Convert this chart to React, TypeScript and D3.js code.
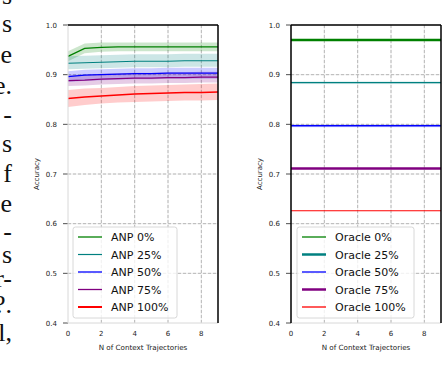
import React, { useEffect, useRef } from 'react';
import * as d3 from 'd3';

// context sizes on the x axis
const contextN = [0, 1, 2, 3, 4, 5, 6, 7, 8, 9];

const anpLabels = ['ANP 0%', 'ANP 25%', 'ANP 50%', 'ANP 75%', 'ANP 100%'];
const anpColors = ['green', 'teal', 'blue', 'purple', 'red'];
const anpWidths = [1.3, 1.2, 1.3, 1.3, 2];

const anpMean = [
  [0.937, 0.953, 0.955, 0.956, 0.956, 0.956, 0.956, 0.956, 0.956, 0.956],
  [0.923, 0.924, 0.925, 0.926, 0.927, 0.927, 0.927, 0.928, 0.928, 0.928],
  [0.896, 0.899, 0.900, 0.901, 0.902, 0.902, 0.903, 0.903, 0.903, 0.903],
  [0.888, 0.889, 0.891, 0.892, 0.893, 0.893, 0.894, 0.894, 0.895, 0.895],
  [0.852, 0.855, 0.857, 0.859, 0.861, 0.862, 0.863, 0.864, 0.864, 0.865],
];
const anpLow = [
  [0.927, 0.943, 0.946, 0.947, 0.947, 0.947, 0.947, 0.947, 0.947, 0.947],
  [0.911, 0.912, 0.913, 0.914, 0.915, 0.915, 0.915, 0.916, 0.916, 0.916],
  [0.885, 0.888, 0.889, 0.890, 0.891, 0.891, 0.892, 0.892, 0.892, 0.892],
  [0.877, 0.878, 0.880, 0.881, 0.882, 0.882, 0.883, 0.883, 0.884, 0.884],
  [0.835, 0.839, 0.842, 0.844, 0.845, 0.846, 0.847, 0.848, 0.848, 0.849],
];
const anpHigh = [
  [0.947, 0.963, 0.965, 0.965, 0.965, 0.965, 0.965, 0.965, 0.965, 0.965],
  [0.937, 0.938, 0.939, 0.940, 0.941, 0.941, 0.941, 0.942, 0.942, 0.942],
  [0.907, 0.910, 0.911, 0.912, 0.913, 0.913, 0.914, 0.914, 0.914, 0.914],
  [0.899, 0.900, 0.902, 0.903, 0.904, 0.904, 0.905, 0.905, 0.906, 0.906],
  [0.869, 0.872, 0.873, 0.875, 0.877, 0.878, 0.879, 0.880, 0.881, 0.882],
];

const oracleLabels = ['Oracle 0%', 'Oracle 25%', 'Oracle 50%', 'Oracle 75%', 'Oracle 100%'];
const oracleColors = ['green', 'teal', 'blue', 'purple', 'red'];
const oracleWidths = [2.5, 1.2, 1.5, 2.5, 1.2];
const oracleLegendWidths = [1.3, 2.5, 1.3, 2.5, 1.3];
const oracleValues = [0.970, 0.884, 0.797, 0.711, 0.626];

const yTicks = [0.4, 0.5, 0.6, 0.7, 0.8, 0.9, 1.0];
const xTicks = [0, 2, 4, 6, 8];

// cut-off words of the surrounding page text
const pageBits = ['s', 's', 'e', 'e.', '-', 's', 'f', 'e', '-', 's', 'r-', '?.', 'l,'];
const pageBaselines = [4, 32, 63, 94, 123, 152, 182, 212, 240, 263, 287, 313, 341];

const App = () => {
  const svgRef = useRef(null);

  useEffect(() => {
    const svg = d3.select(svgRef.current);
    svg.selectAll('*').remove();

    const font = 'DejaVu Sans, sans-serif';

    // page text fragments on the left edge
    svg.append('g')
      .selectAll('text')
      .data(pageBits)
      .enter()
      .append('text')
      .attr('x', 12)
      .attr('y', (d, i) => pageBaselines[i])
      .attr('text-anchor', 'end')
      .style('font-family', 'Liberation Serif, serif')
      .style('font-size', '26px')
      .style('fill', '#111')
      .text(d => d);

    const drawPanel = (left, right, leftSpineDark, labelX) => {
      const x = d3.scaleLinear().domain([0, 9]).range([left, right]);
      const y = d3.scaleLinear().domain([0.4, 1.0]).range([323, 25]);
      const g = svg.append('g');

      // light solid grid underneath
      g.selectAll('.lgx').data([0, 2, 4, 6, 8]).enter().append('line')
        .attr('x1', d => x(d)).attr('x2', d => x(d))
        .attr('y1', y(0.4)).attr('y2', y(1.0))
        .attr('stroke', '#ececec').attr('stroke-width', 1);
      g.selectAll('.lgy').data(yTicks).enter().append('line')
        .attr('x1', x(0)).attr('x2', x(9))
        .attr('y1', d => y(d)).attr('y2', d => y(d))
        .attr('stroke', '#ececec').attr('stroke-width', 1);

      // dashed grid
      g.selectAll('.gx').data([2, 4, 6, 8]).enter().append('line')
        .attr('x1', d => x(d)).attr('x2', d => x(d))
        .attr('y1', y(0.4)).attr('y2', y(1.0))
        .attr('stroke', '#a8a8a8').attr('stroke-width', 0.8)
        .attr('stroke-dasharray', '3,2');
      g.selectAll('.gy').data([0.5, 0.6, 0.7, 0.8, 0.9]).enter().append('line')
        .attr('x1', x(0)).attr('x2', x(9))
        .attr('y1', d => y(d)).attr('y2', d => y(d))
        .attr('stroke', '#a8a8a8').attr('stroke-width', 0.8)
        .attr('stroke-dasharray', '3,2');

      // y ticks
      g.selectAll('.yt').data(yTicks).enter().append('line')
        .attr('x1', x(0) - 5).attr('x2', x(0))
        .attr('y1', d => y(d)).attr('y2', d => y(d))
        .attr('stroke', '#222').attr('stroke-width', 0.8);
      g.selectAll('.yl').data(yTicks).enter().append('text')
        .attr('x', x(0) - 11)
        .attr('y', d => y(d) + 2.5)
        .attr('text-anchor', 'end')
        .style('font-family', font).style('font-size', '7px').style('fill', '#222')
        .text(d => d3.format('.1f')(d));

      // x tick labels
      g.selectAll('.xl').data(xTicks).enter().append('text')
        .attr('x', d => x(d))
        .attr('y', 336)
        .attr('text-anchor', 'middle')
        .style('font-family', font).style('font-size', '7px').style('fill', '#222')
        .text(d => d);

      g.append('text')
        .attr('x', (left + right) / 2)
        .attr('y', 350)
        .attr('text-anchor', 'middle')
        .style('font-family', font).style('font-size', '7.2px').style('fill', '#222')
        .text('N of Context Trajectories');

      g.append('text')
        .attr('transform', `translate(${labelX},174) rotate(-90)`)
        .attr('text-anchor', 'middle')
        .style('font-family', font).style('font-size', '7px').style('fill', '#222')
        .text('Accuracy');

      return { x, y, g, leftSpineDark };
    };

    const drawSpines = (p) => {
      const { x, y, g, leftSpineDark } = p;
      g.append('line').attr('x1', x(0)).attr('x2', x(9)).attr('y1', y(0.4)).attr('y2', y(0.4))
        .attr('stroke', '#e2e2e2').attr('stroke-width', 1);
      g.append('line').attr('x1', x(0)).attr('x2', x(0)).attr('y1', y(0.4)).attr('y2', y(1.0))
        .attr('stroke', leftSpineDark ? '#000' : '#e2e2e2').attr('stroke-width', leftSpineDark ? 1.5 : 1);
      g.append('line').attr('x1', x(0)).attr('x2', x(9)).attr('y1', y(1.0)).attr('y2', y(1.0))
        .attr('stroke', '#000').attr('stroke-width', 1.5);
      g.append('line').attr('x1', x(9)).attr('x2', x(9)).attr('y1', y(0.4)).attr('y2', y(1.0))
        .attr('stroke', '#000').attr('stroke-width', 1.5);
    };

    const drawLegend = (g, bx, bw, labels, colors, widths) => {
      g.append('rect')
        .attr('x', bx).attr('y', 227).attr('width', bw).attr('height', 91)
        .attr('rx', 2.5)
        .attr('fill', 'rgba(255,255,255,0.8)')
        .attr('stroke', '#d8d8d8').attr('stroke-width', 1);
      const rows = g.selectAll('.leg').data(labels).enter().append('g')
        .attr('transform', (d, i) => `translate(${bx + 5},${237 + i * 17.5})`);
      rows.append('line')
        .attr('x1', 0).attr('x2', 24).attr('y1', 0).attr('y2', 0)
        .attr('stroke', (d, i) => colors[i])
        .attr('stroke-width', (d, i) => widths[i]);
      rows.append('text')
        .attr('x', 33).attr('y', 4)
        .style('font-family', font).style('font-size', '11px').style('fill', '#111')
        .text(d => d);
    };

    // left panel: ANP
    const pl = drawPanel(68, 218, false, 39);
    const area = d3.area()
      .x(d => pl.x(d.n))
      .y0(d => pl.y(d.lo))
      .y1(d => pl.y(d.hi));
    const line = d3.line()
      .x(d => pl.x(d.n))
      .y(d => pl.y(d.m));

    anpLabels.forEach((lab, k) => {
      const pts = contextN.map((n, i) => ({ n, m: anpMean[k][i], lo: anpLow[k][i], hi: anpHigh[k][i] }));
      pl.g.append('path')
        .attr('d', area(pts))
        .attr('fill', anpColors[k])
        .attr('fill-opacity', 0.2);
    });
    anpLabels.forEach((lab, k) => {
      const pts = contextN.map((n, i) => ({ n, m: anpMean[k][i] }));
      pl.g.append('path')
        .attr('d', line(pts))
        .attr('fill', 'none')
        .attr('stroke', anpColors[k])
        .attr('stroke-width', k === 4 ? 1.5 : anpWidths[k]);
    });
    drawSpines(pl);
    drawLegend(pl.g, 73, 104, anpLabels, anpColors, anpWidths);

    // right panel: Oracle
    const pr = drawPanel(291, 441, true, 262);
    oracleValues.forEach((v, k) => {
      if (k === 1 || k === 2) {
        pr.g.append('rect')
          .attr('x', pr.x(0)).attr('width', pr.x(9) - pr.x(0))
          .attr('y', pr.y(v + 0.003)).attr('height', pr.y(v - 0.003) - pr.y(v + 0.003))
          .attr('fill', oracleColors[k]).attr('fill-opacity', 0.12);
      }
      pr.g.append('line')
        .attr('x1', pr.x(0)).attr('x2', pr.x(9))
        .attr('y1', pr.y(v)).attr('y2', pr.y(v))
        .attr('stroke', oracleColors[k])
        .attr('stroke-width', oracleWidths[k]);
    });
    drawSpines(pr);
    drawLegend(pr.g, 297, 117, oracleLabels, oracleColors, oracleLegendWidths);
  }, []);

  return (
    <svg
      ref={svgRef}
      width={442}
      height={370}
      style={{ position: 'absolute', left: 0, top: 0, background: '#fff' }}
    />
  );
};

export default App;
